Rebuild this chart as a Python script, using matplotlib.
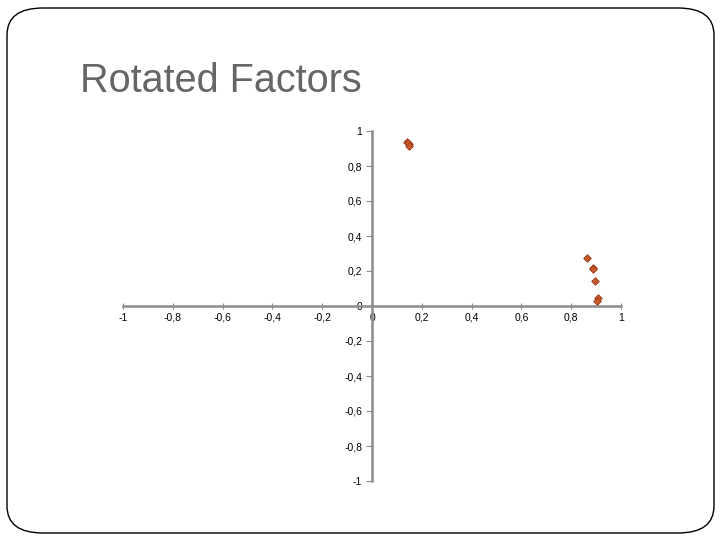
import matplotlib
matplotlib.use("Agg")
import matplotlib.pyplot as plt
from matplotlib.patches import FancyBboxPatch
import numpy as np

plt.rcParams['font.family'] = ['Liberation Sans', 'DejaVu Sans']

factor1 = [0.140, 0.148, 0.145, 0.150, 0.863, 0.888, 0.886, 0.896, 0.908, 0.904]
factor2 = [0.940, 0.925, 0.930, 0.912, 0.274, 0.217, 0.210, 0.143, 0.046, 0.030]
ticks = [-1, -0.8, -0.6, -0.4, -0.2, 0, 0.2, 0.4, 0.6, 0.8, 1]
tick_labels = ["-1", "-0,8", "-0,6", "-0,4", "-0,2", "0", "0,2", "0,4", "0,6", "0,8", "1"]
title = "Rotated Factors"

fig = plt.figure(figsize=(7.2, 5.4), dpi=100)
fig.patch.set_facecolor('white')

border = FancyBboxPatch((7/720, 7/540), 707/720, 525/540,
                        boxstyle="round,pad=0,rounding_size=0.05",
                        transform=fig.transFigure, facecolor='none',
                        edgecolor='black', linewidth=1.0)
fig.patches.append(border)

fig.text(80/720, 1 - 81/540, title, fontsize=28.5, color='#666666',
         va='center', ha='left')

ax = fig.add_axes([123/720, 1 - 481/540, 498/720, 350/540])
ax.set_xlim(-1, 1)
ax.set_ylim(-1, 1)
for s in ['top', 'right']:
    ax.spines[s].set_visible(False)
ax.spines['left'].set_position(('data', 0))
ax.spines['bottom'].set_position(('data', 0))
for s in ['left', 'bottom']:
    ax.spines[s].set_color('#8c8c8c')
    ax.spines[s].set_linewidth(1.8)
ax.set_xticks(ticks)
ax.set_xticklabels(tick_labels, fontsize=7.5)
ax.set_yticks(ticks)
ax.set_yticklabels(tick_labels, fontsize=7.5)
ax.tick_params(axis='x', direction='inout', length=4, color='#8c8c8c', pad=3)
ax.tick_params(axis='y', direction='out', length=4, color='#8c8c8c', pad=3)

ax.scatter(factor1, factor2, marker='D', s=15, facecolor='#C8582A',
           edgecolor='#9a3a1a', linewidth=0.6, zorder=5)

fig.savefig('out.png', dpi=100)
